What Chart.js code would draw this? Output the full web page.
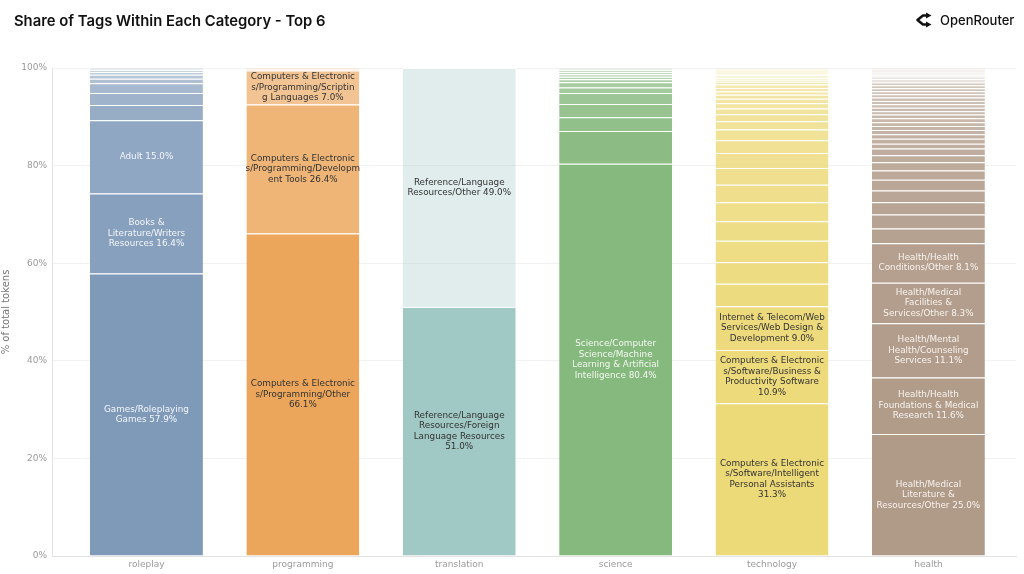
<!DOCTYPE html>
<html>
<head>
<meta charset="utf-8">
<script src="https://cdn.jsdelivr.net/npm/chart.js@4.4.1/dist/chart.umd.min.js"></script>
<style>
  html, body { margin: 0; padding: 0; background: #fff; }
  #wrap { position: relative; width: 1024px; height: 574px; overflow: hidden; }
  #chart { position: absolute; left: 0; top: 0; }
  #title { position: absolute; left: 14px; top: 12px; font: 600 14.8px Inter, sans-serif; color: #111; }
  #logo { position: absolute; left: 914px; top: 12px; display: flex; align-items: center; gap: 7px;
          font: 500 13px Inter, sans-serif; color: #111; }
</style>
</head>
<body>
<div id="wrap">
  <canvas id="chart" width="1024" height="574"></canvas>
  <div id="title">Share of Tags Within Each Category - Top 6</div>
  <div id="logo">
    <svg width="19" height="16" viewBox="0 0 19 16">
      <path d="M13 3.5 H9 L3.5 8 L9 12.5 H13" fill="none" stroke="#111" stroke-width="2.6" stroke-linejoin="round"/>
      <path d="M12 0.5 L17.5 3.5 L12 6.5 Z" fill="#111"/>
      <path d="M12 9.5 L17.5 12.5 L12 15.5 Z" fill="#111"/>
    </svg>
    <span>OpenRouter</span>
  </div>
</div>
<script>
const categories = ['roleplay', 'programming', 'translation', 'science', 'technology', 'health'];

// share of each tag inside its category, largest first
const roleplayShares = [57.9, 16.4, 15.0, 3.1, 2.5, 2.0, 0.9, 0.8, 0.6, 0.4, 0.2, 0.2];
const programmingShares = [66.1, 26.4, 7.0, 0.3, 0.2];
const translationShares = [51.0, 49.0];
const scienceShares = [80.4, 6.7, 2.8, 2.7, 2.3, 1.1, 1.1, 0.6, 0.5, 0.5, 0.5, 0.4, 0.2, 0.1, 0.1];
const technologyShares = [31.3, 10.9, 9.0, 4.6, 4.4, 4.4, 4.0, 3.9, 3.6, 3.4, 3.1, 2.6, 2.2, 1.7, 1.4,
  1.2, 1.1, 0.9, 0.8, 0.7, 0.7, 0.7, 0.6, 0.4, 0.3, 0.3, 0.3, 0.25, 0.25, 0.2, 0.2, 0.15, 0.15,
  0.1, 0.1, 0.05, 0.05];
const healthShares = [25.0, 11.6, 11.1, 8.3, 8.1, 3.0, 2.9, 2.5, 2.4, 2.2, 1.9, 1.7, 1.4, 1.4,
  1.0, 1.0, 0.9, 0.9, 0.8, 0.8, 0.8, 0.75, 0.7, 0.7, 0.7, 0.7, 0.7, 0.65, 0.65, 0.6, 0.6, 0.6,
  0.35, 0.3, 0.3, 0.25, 0.25, 0.2, 0.2, 0.2, 0.15, 0.15, 0.15, 0.15, 0.1, 0.1, 0.1];

// names of the labelled (largest) tags
const roleplayTags = ['Games/Roleplaying Games', 'Books & Literature/Writers Resources', 'Adult'];
const programmingTags = ['Computers & Electronics/Programming/Other',
  'Computers & Electronics/Programming/Development Tools',
  'Computers & Electronics/Programming/Scripting Languages'];
const translationTags = ['Reference/Language Resources/Foreign Language Resources',
  'Reference/Language Resources/Other'];
const scienceTags = ['Science/Computer Science/Machine Learning & Artificial Intelligence'];
const technologyTags = ['Computers & Electronics/Software/Intelligent Personal Assistants',
  'Computers & Electronics/Software/Business & Productivity Software',
  'Internet & Telecom/Web Services/Web Design & Development'];
const healthTags = ['Health/Medical Literature & Resources/Other',
  'Health/Health Foundations & Medical Research',
  'Health/Mental Health/Counseling Services',
  'Health/Medical Facilities & Services/Other',
  'Health/Health Conditions/Other'];

const shares = [roleplayShares, programmingShares, translationShares, scienceShares, technologyShares, healthShares];
const tagNames = [roleplayTags, programmingTags, translationTags, scienceTags, technologyTags, healthTags];

const baseColors = ['#7f9ab9', '#eba65b', '#a0c8c4', '#86b97e', '#ecd978', '#b09a88'];
const labelColors = ['#f4f6fa', '#333333', '#333333', '#f4f8f2', '#333333', '#f7f3ef'];

function tint(hex, a) {
  const r = parseInt(hex.slice(1, 3), 16), g = parseInt(hex.slice(3, 5), 16), b = parseInt(hex.slice(5, 7), 16);
  return `rgba(${r},${g},${b},${a.toFixed(3)})`;
}

function fade(rank, n) {
  return n <= 1 ? 1 : 1 - 0.68 * rank / (n - 1);
}

// greedy wrap like python textwrap (long words split to fill the line)
function wrapText(text, width) {
  const words = text.split(' ');
  const lines = [];
  let cur = '';
  for (let word of words) {
    while (true) {
      if (cur === '') {
        if (word.length <= width) { cur = word; break; }
        lines.push(word.slice(0, width));
        word = word.slice(width);
      } else if (cur.length + 1 + word.length <= width) {
        cur += ' ' + word;
        break;
      } else if (word.length > width) {
        const space = width - cur.length - 1;
        if (space > 0) { cur += ' ' + word.slice(0, space); word = word.slice(space); }
        lines.push(cur);
        cur = '';
      } else {
        lines.push(cur);
        cur = '';
      }
    }
  }
  if (cur) lines.push(cur);
  return lines;
}

const maxRanks = Math.max(...shares.map(s => s.length));
const datasets = [];
for (let r = 0; r < maxRanks; r++) {
  datasets.push({
    data: categories.map((c, i) => ({ x: i, y: shares[i][r] !== undefined ? shares[i][r] : null })),
    backgroundColor: categories.map((c, i) => tint(baseColors[i], fade(r, shares[i].length))),
    borderColor: 'rgba(255,255,255,0.95)',
    borderWidth: { top: 1, left: 0, right: 0, bottom: 0 },
    borderSkipped: false
  });
}

const segmentLabels = {
  id: 'segmentLabels',
  afterDatasetsDraw(chart) {
    const ctx = chart.ctx;
    ctx.save();
    ctx.font = '8.8px "DejaVu Sans"';
    ctx.textAlign = 'center';
    ctx.textBaseline = 'middle';
    chart.data.datasets.forEach((ds, r) => {
      const meta = chart.getDatasetMeta(r);
      meta.data.forEach((bar, i) => {
        const tag = tagNames[i][r];
        if (!tag) return;
        const lines = wrapText(`${tag} ${shares[i][r].toFixed(1)}%`, 22);
        const cy = (bar.y + bar.base) / 2;
        ctx.fillStyle = labelColors[i];
        lines.forEach((ln, k) => ctx.fillText(ln, bar.x, cy + (k - (lines.length - 1) / 2) * 10.5));
      });
    });
    ctx.restore();
  }
};

const tickFont = { family: 'DejaVu Sans', size: 9 };

new Chart(document.getElementById('chart'), {
  type: 'bar',
  data: { datasets },
  options: {
    responsive: false,
    animation: false,
    layout: { padding: { top: 68, right: 8, left: 0, bottom: 0 } },
    plugins: { legend: { display: false }, tooltip: { enabled: false } },
    datasets: { bar: { barPercentage: 0.722, categoryPercentage: 1 } },
    scales: {
      x: {
        type: 'linear',
        stacked: true,
        offset: false,
        min: -0.604,
        max: 5.56,
        grid: { display: false, drawTicks: false, offset: false },
        border: { color: '#e2e2e2' },
        ticks: {
          stepSize: 1, includeBounds: false, autoSkip: false, maxRotation: 0,
          color: '#9a9a9a', font: tickFont, padding: 3,
          callback: v => categories[v] !== undefined ? categories[v] : ''
        },
        afterFit: s => { s.height = 18; }
      },
      y: {
        stacked: true,
        min: 0,
        max: 100,
        grid: { color: '#f2f2f2', drawTicks: false },
        border: { color: '#e2e2e2' },
        ticks: { stepSize: 20, color: '#9a9a9a', font: tickFont, padding: 5, callback: v => v + '%' },
        title: { display: true, text: '% of total tokens', color: '#777', font: { family: 'DejaVu Sans', size: 10 }, padding: 0 },
        afterFit: s => { s.width = 52; }
      }
    }
  },
  plugins: [segmentLabels]
});
</script>
</body>
</html>
